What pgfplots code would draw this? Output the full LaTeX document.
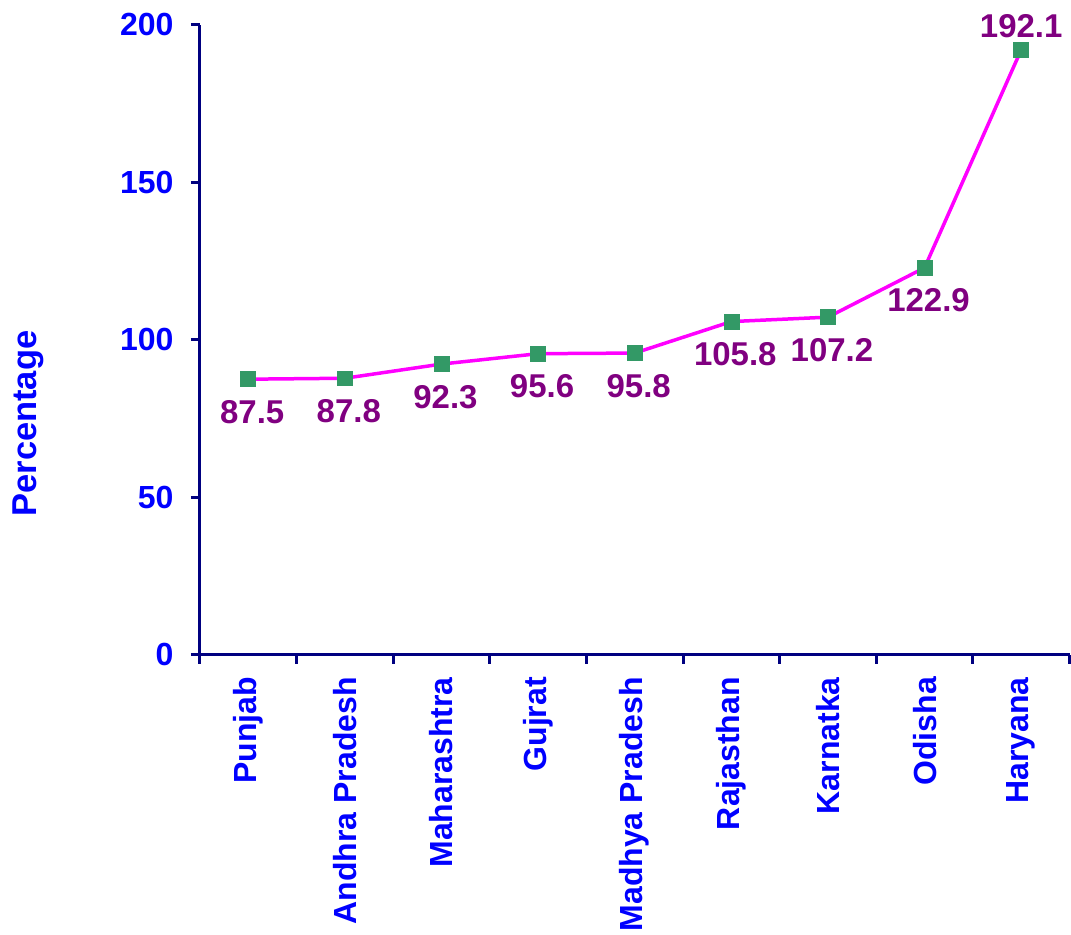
\documentclass[border=0pt]{standalone}
\usepackage{pgfplots}
\pgfplotsset{compat=1.18}
\usepackage{fontspec}
\setmainfont{Liberation Sans}
\definecolor{axisblue}{RGB}{0,0,128}
\definecolor{txtblue}{RGB}{0,0,255}
\definecolor{lblpurple}{RGB}{128,0,128}
\definecolor{mkgreen}{RGB}{51,153,102}
\definecolor{linemag}{RGB}{255,0,255}
\begin{document}
\begin{tikzpicture}
\begin{axis}[
  scale only axis,
  width=870pt, height=630pt,
  xmin=-0.5, xmax=8.5,
  ymin=0, ymax=200,
  axis lines*=left,
  axis line style={axisblue, line width=3pt},
  every tick/.style={axisblue, line width=3pt},
  ytick={0,50,100,150,200},
  major tick length=9pt,
  tick align=outside,
  xtick={-0.5,0.5,...,8.5},
  x tick label as interval,
  xticklabel shift=10pt,
  xticklabels={Punjab,Andhra Pradesh,Maharashtra,Gujrat,Madhya Pradesh,Rajasthan,Karnatka,Odisha,Haryana},
  x tick label style={rotate=90, anchor=east, font=\fontsize{32}{36}\selectfont\bfseries, text=txtblue},
  y tick label style={font=\fontsize{32}{36}\selectfont\bfseries, text=txtblue, xshift=-14pt},
  /pgf/number format/assume math mode=true,
  ylabel={Percentage},
  ylabel style={font=\fontsize{34.5}{38}\selectfont\bfseries, text=txtblue, at={(axis description cs:-0.1977,0.367)}, anchor=center},
  clip=false,
]
\addplot[linemag, line width=3.5pt, mark=square*, mark size=7.5pt,
  mark options={fill=mkgreen, draw=mkgreen, line width=0.5pt}] coordinates {
(0,87.5) (1,87.8) (2,92.3) (3,95.6) (4,95.8) (5,105.8) (6,107.2) (7,122.9) (8,192.1)
};
\addplot[draw=none, mark=none,
  nodes near coords,
  nodes near coords style={font=\fontsize{33}{36}\selectfont\bfseries, text=lblpurple, anchor=north, inner sep=2pt, yshift=-19pt, xshift=4pt, /pgf/number format/.cd, fixed, precision=1, fixed zerofill, assume math mode=true}
] coordinates {
(0,87.5) (1,87.8) (2,92.3) (3,95.6) (4,95.8) (5,105.8) (6,107.2) (7,122.9)
};
\addplot[draw=none, mark=none,
  nodes near coords,
  nodes near coords style={font=\fontsize{33}{36}\selectfont\bfseries, text=lblpurple, anchor=south, inner sep=2pt, yshift=10pt, /pgf/number format/.cd, fixed, precision=1, fixed zerofill, assume math mode=true}
] coordinates {
(8,192.1)
};
\end{axis}
\path ([xshift=-200pt,yshift=-279pt]current axis.south west) rectangle ([xshift=1pt,yshift=25pt]current axis.north east);
\end{tikzpicture}
\end{document}
